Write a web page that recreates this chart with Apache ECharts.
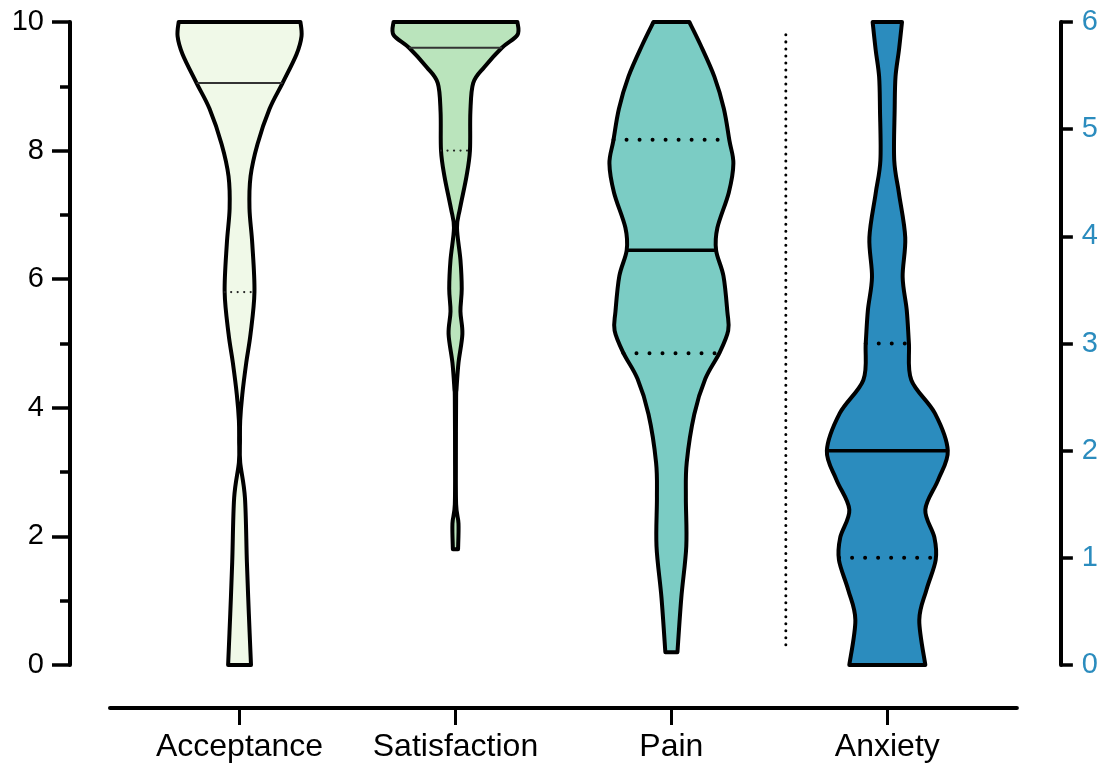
<!DOCTYPE html>
<html>
<head>
<meta charset="UTF-8" />
<script type="text/javascript" src="https://cdn.jsdelivr.net/npm/echarts@6/dist/echarts.min.js"></script>
<style>
	html, body { margin: 0; padding: 0; background: #fff; }
	#chartmain { width: 1101px; height: 767px; }
</style>
</head>
<body>
	<div id="chartmain"></div>

	<script type="text/javascript">
		// categories and tick labels
		var categories = [ 'Acceptance', 'Satisfaction', 'Pain', 'Anxiety' ];
		var categoryTicks = [ 0, 1, 2, 3 ];

		// violin outlines: value levels (bottom -> top) and half width in % of one category band
		var acceptanceLevels = [ 0, 0.8, 1.6, 2.6, 3.15, 3.5, 3.8, 4.2, 4.7, 5.15, 5.8, 6.55, 7.1, 7.6, 8.1, 8.65, 9.05, 9.5, 9.78, 10 ];
		var acceptanceHalf = [ 5.3, 4.3, 3.4, 2.5, 0.3, 0.2, 0.3, 1.25, 3.1, 5.1, 6.9, 5.9, 4.6, 5.1, 8.3, 13.9, 19.9, 26.4, 28.7, 28.2 ];

		var satisfactionLevels = [ 1.8, 2.2, 2.5, 3.3, 4.15, 4.3, 4.7, 5.15, 5.5, 5.85, 6.3, 6.8, 7.1, 7.6, 8.0, 8.6, 9.05, 9.3, 9.6, 9.8, 10 ];
		var satisfactionHalf = [ 1.2, 1.4, 0.3, 0.2, 0.3, 0.5, 1.4, 3.2, 2.3, 2.9, 2.3, 0.7, 2.1, 5.1, 6.7, 6.9, 8.2, 13.4, 21.5, 28.7, 28.7 ];

		var painLevels = [ 0.2, 1.05, 1.85, 2.6, 3.15, 3.9, 4.45, 4.85, 5.2, 5.5, 6.05, 6.45, 6.8, 7.35, 7.8, 8.15, 8.65, 9.15, 9.65, 10 ];
		var painHalf = [ 2.8, 4.6, 6.9, 6.7, 7.1, 10.6, 15.7, 22.2, 26.3, 25.9, 24.1, 20.7, 21.3, 26.6, 28.7, 26.9, 24.3, 19.9, 13.4, 8.3 ];

		// anxiety is read on the right axis (0-6)
		var anxietyLevels = [ 0, 0.42, 0.7, 0.98, 1.19, 1.45, 1.73, 2.0, 2.35, 2.66, 3.0, 3.31, 3.62, 3.99, 4.4, 4.71, 5.18, 5.49, 5.74, 6 ];
		var anxietyHalf = [ 17.6, 14.8, 18.1, 22.4, 21.8, 17.6, 23.6, 28.0, 22.0, 11.1, 10.0, 9.0, 7.1, 8.3, 5.4, 3.2, 3.4, 3.8, 5.4, 6.8 ];

		// median and quartiles (null = on the edge, not drawn)
		var medians = [ 9.05, 9.6, 6.45, 2.0 ];
		var lowerQuartiles = [ 5.8, 8.0, 4.85, 1.0 ];
		var upperQuartiles = [ null, null, 8.17, 3.0 ];

		var fills = [ '#f0f9e8', '#bae4bc', '#7bccc4', '#2b8cbe' ];
		var thinLines = [ true, true, false, false ];
		var violins = [
			{ levels : acceptanceLevels, half : acceptanceHalf, axis : 0 },
			{ levels : satisfactionLevels, half : satisfactionHalf, axis : 0 },
			{ levels : painLevels, half : painHalf, axis : 0 },
			{ levels : anxietyLevels, half : anxietyHalf, axis : 1 }
		];
		var separatorAt = 2.53;

		var font = '"Liberation Sans", Arial, sans-serif';

		// catmull-rom through the outline points -> bezier segments
		function curve(pts) {
			var s = '';
			for (var i = 0; i < pts.length - 1; i++) {
				var p0 = pts[i - 1] || pts[i], p1 = pts[i], p2 = pts[i + 1], p3 = pts[i + 2] || p2;
				var c1x = p1[0] + (p2[0] - p0[0]) / 6, c1y = p1[1] + (p2[1] - p0[1]) / 6;
				var c2x = p2[0] - (p3[0] - p1[0]) / 6, c2y = p2[1] - (p3[1] - p1[1]) / 6;
				s += ' C' + c1x + ' ' + c1y + ' ' + c2x + ' ' + c2y + ' ' + p2[0] + ' ' + p2[1];
			}
			return s;
		}

		function halfAt(v, val) {
			var L = v.levels, H = v.half;
			for (var i = 0; i < L.length - 1; i++) {
				if (val >= L[i] && val <= L[i + 1]) {
					var t = (val - L[i]) / (L[i + 1] - L[i]);
					return H[i] + t * (H[i + 1] - H[i]);
				}
			}
			return H[H.length - 1];
		}

		function makeRender(k) {
			return function(params, api) {
				var v = violins[k];
				var bw = api.size([ 1, 0 ])[0];
				var left = [], right = [];
				for (var i = 0; i < v.levels.length; i++) {
					var p = api.coord([ k, v.levels[i] ]);
					var hw = v.half[i] / 100 * bw;
					left.push([ p[0] - hw, p[1] ]);
					right.push([ p[0] + hw, p[1] ]);
				}
				var rr = right.slice().reverse();
				var d = 'M' + left[0][0] + ' ' + left[0][1] + curve(left)
						+ ' L' + rr[0][0] + ' ' + rr[0][1] + curve(rr) + ' Z';

				var children = [ {
					type : 'path',
					shape : { pathData : d },
					style : { fill : fills[k], stroke : '#000', lineWidth : 4, lineJoin : 'round' }
				} ];

				var thin = thinLines[k];
				function statLine(val, dotted) {
					if (val == null) return;
					var c = api.coord([ k, val ]);
					var hw = halfAt(v, val) / 100 * bw;
					var style = thin
						? { stroke : '#333', lineWidth : 2 }
						: { stroke : '#000', lineWidth : 3.5 };
					if (dotted) {
						style = thin
							? { stroke : '#222', lineWidth : 2.2, lineCap : 'round', lineDash : [ 0.01, 6.5 ] }
							: { stroke : '#000', lineWidth : 4, lineCap : 'round', lineDash : [ 0.01, 13 ] };
					}
					children.push({
						type : 'line',
						shape : { x1 : c[0] - hw, y1 : c[1], x2 : c[0] + hw, y2 : c[1] },
						style : style
					});
				}
				statLine(medians[k], false);
				statLine(lowerQuartiles[k], true);
				statLine(upperQuartiles[k], true);

				return { type : 'group', children : children };
			};
		}

		var series = violins.map(function(v, k) {
			return {
				name : categories[k],
				type : 'custom',
				yAxisIndex : v.axis,
				data : [ [ k, 0 ] ],
				renderItem : makeRender(k),
				silent : true
			};
		});

		// dotted separator between left-axis and right-axis groups
		series.push({
			type : 'custom',
			yAxisIndex : 0,
			data : [ [ separatorAt, 0 ] ],
			silent : true,
			renderItem : function(params, api) {
				var a = api.coord([ separatorAt, 9.8 ]);
				var b = api.coord([ separatorAt, 0.3 ]);
				return {
					type : 'line',
					shape : { x1 : a[0], y1 : a[1], x2 : b[0], y2 : b[1] },
					style : { stroke : '#000', lineWidth : 3, lineCap : 'round', lineDash : [ 0.01, 7 ] }
				};
			}
		});

		var option = {
			animation : false,
			backgroundColor : '#fff',
			grid : { left : 110, right : 84, top : 22, bottom : 102 },
			xAxis : {
				type : 'value',
				min : -0.6,
				max : 3.6,
				offset : 43,
				axisLine : { show : true, onZero : false, lineStyle : { color : '#000', width : 4 } },
				axisTick : { show : true, customValues : categoryTicks, length : 17, lineStyle : { color : '#000', width : 3 } },
				axisLabel : {
					customValues : categoryTicks,
					formatter : function(val) { return categories[Math.round(val)]; },
					color : '#000', fontSize : 32, fontFamily : font, margin : 23
				},
				splitLine : { show : false }
			},
			yAxis : [ {
				type : 'value',
				min : 0, max : 10, interval : 2,
				position : 'left',
				offset : 40,
				axisLine : { show : true, onZero : false, lineStyle : { color : '#000', width : 4 } },
				axisTick : { show : true, length : 18, lineStyle : { color : '#000', width : 3.5 } },
				minorTick : { show : true, splitNumber : 2, length : 10, lineStyle : { color : '#000', width : 3.5 } },
				axisLabel : { color : '#000', fontSize : 29, fontFamily : font, margin : 26 },
				splitLine : { show : false }
			}, {
				type : 'value',
				min : 0, max : 6, interval : 1,
				position : 'right',
				offset : 44,
				axisLine : { show : true, onZero : false, lineStyle : { color : '#000', width : 4 } },
				axisTick : { show : true, length : 12, lineStyle : { color : '#000', width : 3.5 } },
				axisLabel : { color : '#2b8cbe', fontSize : 29, fontFamily : font, margin : 21 },
				splitLine : { show : false }
			} ],
			series : series
		};

		var myChart = echarts.init(document.getElementById('chartmain'));
		myChart.setOption(option);
	</script>
</body>
</html>
